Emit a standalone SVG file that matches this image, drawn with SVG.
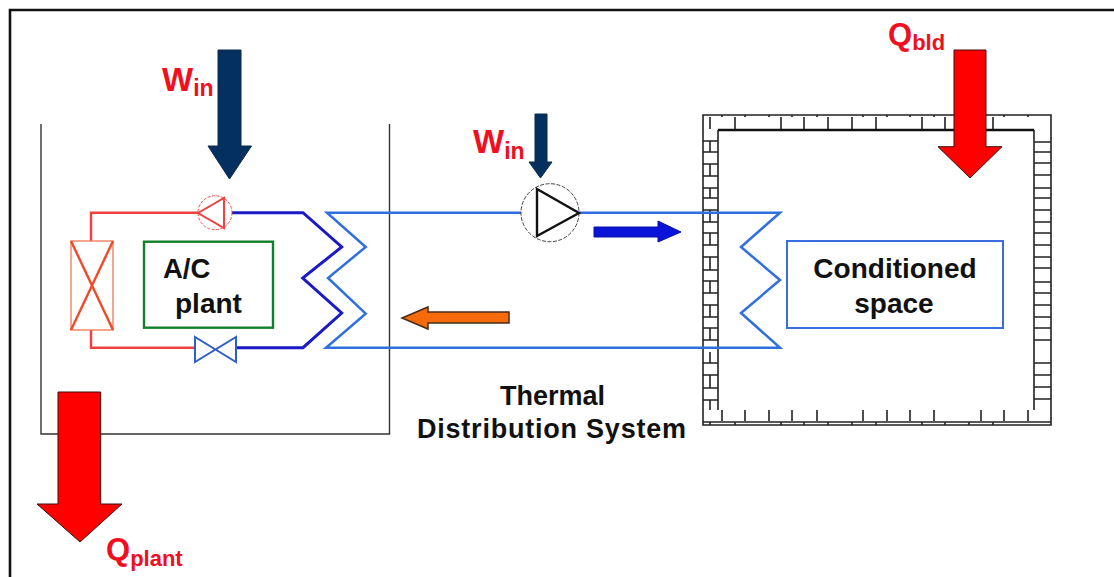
<svg xmlns="http://www.w3.org/2000/svg" width="1114" height="577" viewBox="0 0 1114 577">
<style>
.t{font-family:"Liberation Sans",Arial,sans-serif;font-weight:bold;fill:#111}
.r{font-family:"Liberation Sans",Arial,sans-serif;font-weight:bold;fill:#f00f1e}
.w{fill:none;stroke:#222;stroke-width:1.6}
.bl{fill:none;stroke:#2f6fe0;stroke-width:2.5;stroke-linejoin:miter}
.db{fill:none;stroke:#1a1ac8;stroke-width:3}
.rd{fill:none;stroke:#f04040;stroke-width:2.5}
.ar{fill:#f00;stroke:#3a1010;stroke-width:1}
.nv{fill:#04305f;stroke:#0a2a4a;stroke-width:1}
</style>
<rect width="1114" height="577" fill="#fff"/>
<path d="M10 577V10H1114" fill="none" stroke="#111" stroke-width="2.6"/>
<g id="plant-enclosure"><path d="M41 124V434H389.5V124" fill="none" stroke="#333" stroke-width="1.4"/></g>
<g id="wall">
<path class="w" d="M703 423V115H1051V425H703Z"/>
<path class="w" d="M718 410V130M1034 410V130"/>
<path d="M718 130H1034" stroke="#111" stroke-width="2.4" fill="none"/>
<path class="w" d="M703 422H1051"/>
<path class="w" d="M710 117V129M735 117V129M781 117V129M804 117V129M828 117V129M852 117V129M876 117V129M922 117V129M945 117V129M968 117V129M993 117V129"/>
<path class="w" d="M722 115V117M745 115V117M769 115V117M792 115V117M817 115V117M863 115V117M887 115V117M910 115V117M934 115V117M1004 115V117M1028 115V117"/>
<path class="w" d="M722 410V421M745 410V421M769 410V421M792 410V421M817 410V421M863 410V421M887 410V421M910 410V421M934 410V421M981 410V421M1004 410V421M1028 410V421"/>
<path class="w" d="M710 422V425M735 422V425M781 422V425M804 422V425M828 422V425M852 422V425M876 422V425M922 422V425M945 422V425M969 422V425M993 422V425"/>
<path class="w" d="M703 141H718M703 152H718M703 164H718M703 176H718M703 188H718M703 198H718M703 210H718M703 222H718M703 233H718M703 245H718M703 257H718M703 270H718M703 281H718M703 293H718M703 305H718M703 317H718M703 328H718M703 340H718M703 363H718M703 375H718M703 388H718M703 400H718"/>
<path class="w" d="M710 141V152M710 164V176M710 188V198M710 210V222M710 233V245M710 257V270M710 281V293M710 305V317M710 328V340M710 352V363M710 375V388M710 400V410"/>
<path class="w" d="M1034 142H1051M1034 152H1051M1034 163H1051M1034 175H1051M1034 188H1051M1034 198H1051M1034 210H1051M1034 222H1051M1034 233H1051M1034 245H1051M1034 257H1051M1034 268H1051M1034 282H1051M1034 293H1051M1034 305H1051M1034 317H1051M1034 328H1051M1034 340H1051M1034 363H1051M1034 375H1051M1034 387H1051M1034 399H1051"/>
</g>
<g id="connectors">
<path class="rd" d="M198 212.7H91V241M91 330V347.7H195"/>
<path class="db" d="M224 212.7H303L341.7 247 302.7 278 341.7 313 303 347.7H237"/>
<path class="bl" d="M780 212.7H327L365.7 247 328 278 365.7 313.6 326 347.7H780L741 313 780 280 741 247Z"/>
</g>
<g id="condenser">
<rect x="71" y="241" width="42" height="89" fill="#fff" stroke="#ee7755" stroke-width="1.3"/>
<path d="M71 241L113 330M113 241L71 330" fill="none" stroke="#f04a28" stroke-width="2.4"/>
</g>
<g id="ac-plant">
<rect x="144" y="241.7" width="129" height="86" fill="#fff" stroke="#12802a" stroke-width="2.4"/>
<text class="t" x="163" y="278" font-size="27.500">A/C</text>
<text class="t" x="175" y="313" font-size="28">plant</text>
</g>
<g id="plant-pump">
<circle cx="215" cy="212.7" r="17" fill="#fff" stroke="#f05050" stroke-width="1" stroke-dasharray="3 1.5"/>
<path d="M198 213L224 198V228Z" fill="none" stroke="#f04040" stroke-width="2"/>
</g>
<g id="valve">
<path d="M195 337V362L236 337V362Z" fill="#fff" stroke="#2f5fc8" stroke-width="2"/>
</g>
<g id="distribution-pump">
<circle cx="550" cy="212.7" r="29" fill="#fff" stroke="#444" stroke-width="1" stroke-dasharray="4 1.500"/>
<path d="M537 189L579 213 537 236Z" fill="none" stroke="#111" stroke-width="2.400"/>
</g>
<g id="conditioned-space">
<rect x="787" y="241" width="216" height="87" fill="#fff" stroke="#3a6ee0" stroke-width="2"/>
<text class="t" x="895" y="278" font-size="28" text-anchor="middle">Conditioned</text>
<text class="t" x="894" y="313" font-size="28" text-anchor="middle">space</text>
</g>
<g id="thermal-label">
<text class="t" x="552.500" y="405" font-size="27" text-anchor="middle">Thermal</text>
<text class="t" x="551.500" y="438" font-size="27" text-anchor="middle" textLength="269">Distribution System</text>
</g>
<g id="win-plant">
<path class="nv" d="M218 50H241V146H251.500L229.500 179 208 146H218Z"/>
<text class="r" x="162" y="91" font-size="33">W<tspan font-size="23" dy="5">in</tspan></text>
</g>
<g id="win-pump">
<path class="nv" d="M535 114H547V162H552L540.500 178 529 162H535Z"/>
<text class="r" x="473" y="153" font-size="33">W<tspan font-size="23" dy="6">in</tspan></text>
</g>
<g id="q-bld">
<path class="ar" d="M954 50H986V146.700H1002L970 178 938 146.700H954Z"/>
<text class="r" x="888" y="45" font-size="31">Q<tspan font-size="22" dy="5">bld</tspan></text>
</g>
<g id="q-plant">
<path class="ar" d="M58 392H100.700V504H122L80 542 37 504H58Z"/>
<text class="r" x="106" y="560" font-size="31">Q<tspan font-size="22" dy="6">plant</tspan></text>
</g>
<g id="flow-arrows">
<path d="M594 227H658V221L681 232 658 242V237H594Z" fill="#0a14d8" stroke="#0a14a0"/>
<path d="M509 312H428V307L402 318 428 329V323H509Z" fill="#f56a0a" stroke="#4a2a1a" stroke-width="1.500"/>
</g>
</svg>
